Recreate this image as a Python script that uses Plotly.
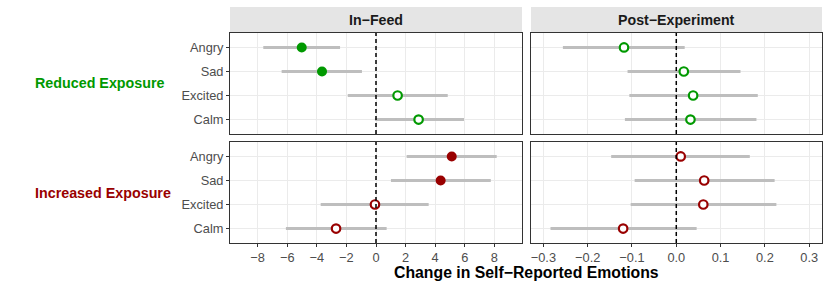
import plotly.graph_objects as go

W, H = 830, 290

emotions = ["Angry", "Sad", "Excited", "Calm"]
cat_order = ["Calm", "Excited", "Sad", "Angry"]

groups = ["Reduced Exposure", "Increased Exposure"]
group_colors = {"Reduced Exposure": "#009900", "Increased Exposure": "#990000"}
panels = ["In\u2212Feed", "Post\u2212Experiment"]

# In-Feed estimates
infeed_reduced_est = [-5.02, -3.65, 1.46, 2.88]
infeed_reduced_lo = [-7.62, -6.38, -1.91, -0.07]
infeed_reduced_hi = [-2.43, -0.95, 4.85, 5.95]
infeed_increased_est = [5.12, 4.37, -0.07, -2.70]
infeed_increased_lo = [2.07, 1.01, -3.74, -6.09]
infeed_increased_hi = [8.16, 7.76, 3.56, 0.72]

# Post-Experiment estimates
post_reduced_est = [-0.118, 0.017, 0.038, 0.032]
post_reduced_lo = [-0.256, -0.110, -0.106, -0.116]
post_reduced_hi = [0.019, 0.145, 0.184, 0.181]
post_increased_est = [0.010, 0.063, 0.061, -0.120]
post_increased_lo = [-0.147, -0.094, -0.103, -0.284]
post_increased_hi = [0.166, 0.222, 0.226, 0.046]

# significance (filled = significant)
infeed_reduced_sig = [True, True, False, False]
infeed_increased_sig = [True, True, False, False]
post_reduced_sig = [False, False, False, False]
post_increased_sig = [False, False, False, False]

infeed_ticks = [-8, -6, -4, -2, 0, 2, 4, 6, 8]
infeed_ticklabels = ["\u22128", "\u22126", "\u22124", "\u22122", "0", "2", "4", "6", "8"]
post_ticks = [-0.3, -0.2, -0.1, 0.0, 0.1, 0.2, 0.3]
post_ticklabels = ["\u22120.3", "\u22120.2", "\u22120.1", "0.0", "0.1", "0.2", "0.3"]

x_title = "Change in Self\u2212Reported Emotions"

data = {
    (0, 0): (infeed_reduced_est, infeed_reduced_lo, infeed_reduced_hi, infeed_reduced_sig),
    (0, 1): (post_reduced_est, post_reduced_lo, post_reduced_hi, post_reduced_sig),
    (1, 0): (infeed_increased_est, infeed_increased_lo, infeed_increased_hi, infeed_increased_sig),
    (1, 1): (post_increased_est, post_increased_lo, post_increased_hi, post_increased_sig),
}

# layout in pixels
col_px = [(230, 522), (531, 822)]
row_px = [(33, 134), (142, 243)]
strip_top = 7
xranges = [[-9.87, 9.87], [-0.328, 0.329]]

def px_x(p):
    return p / W

def px_y(p):
    return 1 - p / H

FONT = "Liberation Sans, Arial, Helvetica, sans-serif"
TICK_SIZE = 12.8

fig = go.Figure()
layout = dict(
    width=W, height=H,
    margin=dict(l=0, r=0, t=0, b=0),
    paper_bgcolor="white", plot_bgcolor="white",
    showlegend=False,
    font=dict(family=FONT, size=12, color="#4D4D4D"),
)

shapes = []
annotations = []

for r in range(2):
    for c in range(2):
        idx = r * 2 + c + 1
        xa = "xaxis" if idx == 1 else f"xaxis{idx}"
        ya = "yaxis" if idx == 1 else f"yaxis{idx}"
        xref = "x" if idx == 1 else f"x{idx}"
        yref = "y" if idx == 1 else f"y{idx}"
        bottom = r == 1
        left = c == 0
        layout[xa] = dict(
            domain=[px_x(col_px[c][0]), px_x(col_px[c][1])],
            anchor=yref, range=xranges[c],
            tickvals=infeed_ticks if c == 0 else post_ticks,
            ticktext=infeed_ticklabels if c == 0 else post_ticklabels,
            showticklabels=bottom,
            ticks="outside" if bottom else "", ticklen=3, tickwidth=1, tickcolor="#333333",
            showgrid=True, gridcolor="#EBEBEB", gridwidth=1,
            zeroline=False,
            showline=True, mirror=True, linecolor="#333333", linewidth=1,
            tickfont=dict(size=TICK_SIZE, color="#4D4D4D"),
        )
        layout[ya] = dict(
            domain=[px_y(row_px[r][1]), px_y(row_px[r][0])],
            anchor=xref, type="category",
            categoryorder="array", categoryarray=cat_order,
            range=[-0.6, 3.6],
            showticklabels=left,
            ticks="outside" if left else "", ticklen=3, tickwidth=1, tickcolor="#333333",
            showgrid=True, gridcolor="#EBEBEB", gridwidth=1,
            zeroline=False,
            showline=True, mirror=True, linecolor="#333333", linewidth=1,
            tickfont=dict(size=TICK_SIZE, color="#4D4D4D"),
        )

        est, lo, hi, sig = data[(r, c)]
        color = group_colors[groups[r]]
        # CI bars
        xs, ys = [], []
        for e, l, h in zip(emotions, lo, hi):
            xs += [l, h, None]
            ys += [e, e, None]
        fig.add_trace(go.Scatter(x=xs, y=ys, mode="lines", xaxis=xref, yaxis=yref,
                                 line=dict(color="#BEBEBE", width=3), hoverinfo="skip"))
        # zero line
        shapes.append(dict(type="line", xref=xref, yref=f"{yref} domain",
                           x0=0, x1=0, y0=0, y1=1,
                           line=dict(color="black", width=1.5, dash="4px,3px"), layer="above"))
        # points
        fill_e = [e for e, s in zip(emotions, sig) if s]
        fill_x = [v for v, s in zip(est, sig) if s]
        open_e = [e for e, s in zip(emotions, sig) if not s]
        open_x = [v for v, s in zip(est, sig) if not s]
        if fill_x:
            fig.add_trace(go.Scatter(x=fill_x, y=fill_e, mode="markers", xaxis=xref, yaxis=yref,
                                     marker=dict(color=color, size=10, line=dict(width=0))))
        if open_x:
            fig.add_trace(go.Scatter(x=open_x, y=open_e, mode="markers", xaxis=xref, yaxis=yref,
                                     marker=dict(color="white", size=8.5, line=dict(color=color, width=2.2))))

# strips
for c in range(2):
    shapes.append(dict(type="rect", xref="paper", yref="paper",
                       x0=px_x(col_px[c][0]), x1=px_x(col_px[c][1]),
                       y0=px_y(row_px[0][0]), y1=px_y(strip_top),
                       fillcolor="#E5E5E5", line=dict(width=0), layer="below"))
    annotations.append(dict(xref="paper", yref="paper",
                            x=px_x((col_px[c][0] + col_px[c][1]) / 2),
                            y=px_y((strip_top + row_px[0][0]) / 2),
                            text=f"<b>{panels[c]}</b>", showarrow=False,
                            xanchor="center", yanchor="middle",
                            font=dict(size=14.2, color="#1A1A1A")))

# row labels
for r in range(2):
    annotations.append(dict(xref="paper", yref="paper",
                            x=px_x(33), y=px_y((row_px[r][0] + row_px[r][1]) / 2),
                            text=f"<b>{groups[r]}</b>", showarrow=False,
                            xanchor="left", yanchor="middle",
                            font=dict(size=14.3, color=group_colors[groups[r]])))

# x-axis title
annotations.append(dict(xref="paper", yref="paper",
                        x=px_x((col_px[0][0] + col_px[1][1]) / 2), y=px_y(272),
                        text=f"<b>{x_title}</b>", showarrow=False,
                        xanchor="center", yanchor="middle",
                        font=dict(size=15.8, color="black")))

layout["shapes"] = shapes
layout["annotations"] = annotations
fig.update_layout(**layout)
fig.write_html("out.html", config={"displayModeBar": False},
               post_script="document.body.style.margin='0';document.body.style.overflow='hidden';")
